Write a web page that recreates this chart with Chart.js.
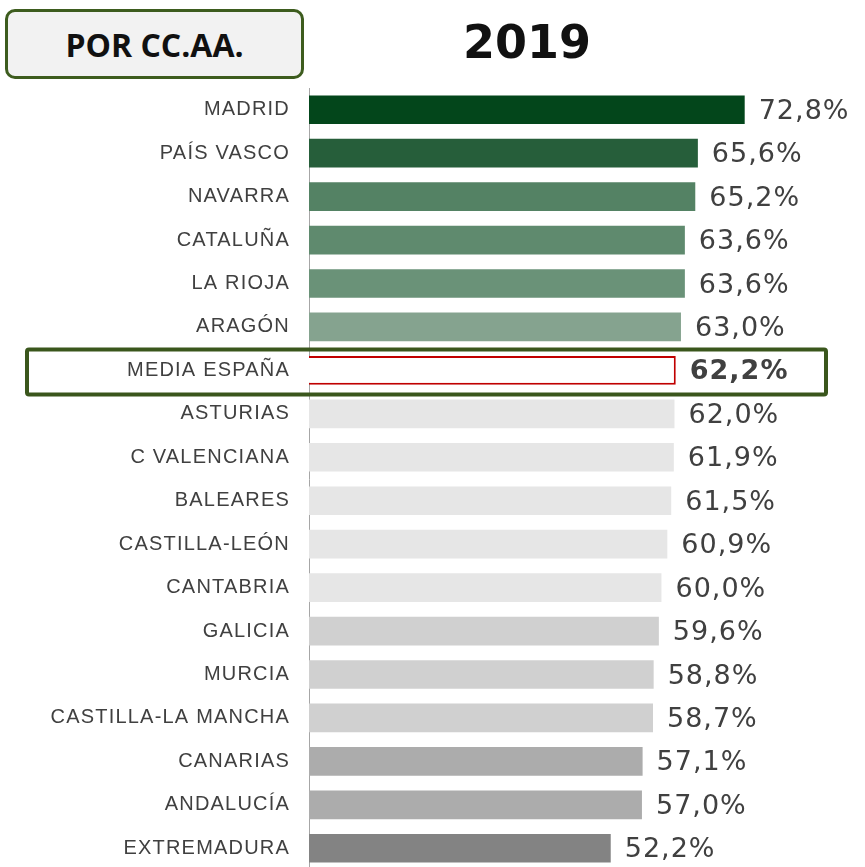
<!DOCTYPE html>
<html>
<head>
<meta charset="utf-8">
<script src="https://cdn.jsdelivr.net/npm/chart.js@4"></script>
<style>
  html, body { margin: 0; padding: 0; background: #fff; overflow: hidden; }
  #wrap { position: relative; width: 865px; height: 867px; overflow: hidden; }
  #badge {
    position: absolute; left: 5px; top: 9px; width: 293px; height: 64px;
    border: 3px solid #3d5c1e; border-radius: 10px; background: #f2f2f2;
    font: bold 32px "Open Sans", sans-serif; color: #111;
    display: flex; align-items: center; justify-content: center;
  }
  #year {
    position: absolute; left: 427px; top: 15px; width: 200px; text-align: center;
    font: bold 46px "DejaVu Sans", sans-serif; color: #111;
  }
</style>
</head>
<body>
<div id="wrap">
  <canvas id="ccaaChart" width="865" height="870"></canvas>
  <div id="badge">POR CC.AA.</div>
  <div id="year">2019</div>
</div>
<script>
// Tasa por comunidad autónoma, 2019
const regiones = ['MADRID', 'PAÍS VASCO', 'NAVARRA', 'CATALUÑA', 'LA RIOJA', 'ARAGÓN', 'MEDIA ESPAÑA',
  'ASTURIAS', 'C VALENCIANA', 'BALEARES', 'CASTILLA-LEÓN', 'CANTABRIA', 'GALICIA', 'MURCIA',
  'CASTILLA-LA MANCHA', 'CANARIAS', 'ANDALUCÍA', 'EXTREMADURA'];
const valores = [72.8, 65.6, 65.2, 63.6, 63.6, 63.0, 62.2, 62.0, 61.9, 61.5, 60.9, 60.0, 59.6, 58.8, 58.7, 57.1, 57.0, 52.2];
const colores = ['#03461b', '#265e3a', '#548264', '#5f8a6e', '#6a9278', '#85a38f', '#ffffff',
  '#e6e6e6', '#e6e6e6', '#e6e6e6', '#e6e6e6', '#e6e6e6', '#d0d0d0', '#d0d0d0', '#d0d0d0',
  '#acacac', '#acacac', '#838383'];
const idxMedia = regiones.indexOf('MEDIA ESPAÑA');

// etiquetas de valor + recuadro de la media
const etiquetas = {
  id: 'etiquetas',
  beforeDraw(chart) {
    chart.ctx.letterSpacing = '1.2px';
  },
  afterDatasetsDraw(chart) {
    const ctx = chart.ctx;
    const meta = chart.getDatasetMeta(0);
    ctx.save();
    ctx.letterSpacing = '1px';
    ctx.fillStyle = '#404040';
    ctx.textAlign = 'left';
    ctx.textBaseline = 'middle';
    meta.data.forEach((bar, i) => {
      ctx.font = (i === idxMedia ? 'bold ' : '') + '27px "DejaVu Sans"';
      ctx.fillText(valores[i].toFixed(1).replace('.', ',') + '%', bar.x + 14, bar.y + 2);
    });
    // recuadro verde alrededor de la fila de la media
    const yc = chart.scales.y.getPixelForValue(idxMedia);
    ctx.strokeStyle = '#3a561c';
    ctx.lineWidth = 4;
    ctx.beginPath();
    ctx.roundRect(27, yc - 21, 799, 45, 2);
    ctx.stroke();
    ctx.restore();
  }
};

const ctx = document.getElementById('ccaaChart').getContext('2d');
new Chart(ctx, {
  type: 'bar',
  data: {
    labels: regiones,
    datasets: [{
      data: valores,
      backgroundColor: colores,
      borderColor: valores.map((v, i) => i === idxMedia ? '#c00000' : 'rgba(0,0,0,0)'),
      borderWidth: valores.map((v, i) => i === idxMedia ? 2 : 0),
      borderSkipped: false,
      barPercentage: 0.66,
      categoryPercentage: 1
    }]
  },
  options: {
    indexAxis: 'y',
    responsive: false,
    animation: false,
    layout: { padding: { top: 88, left: 0, right: 0, bottom: 0 } },
    scales: {
      x: { display: false, min: 5.8, max: 91.3 },
      y: {
        grid: { display: false, drawTicks: false },
        border: { display: true, color: '#a6a6a6', width: 1 },
        ticks: {
          color: '#404040',
          padding: 19,
          font: { family: '"Liberation Sans", Arial, sans-serif', size: 20 }
        },
        afterFit(scale) {
          scale.width = 309;
          scale.paddingTop = 0;
          scale.paddingBottom = 0;
        }
      }
    },
    plugins: {
      legend: { display: false },
      tooltip: { enabled: false }
    }
  },
  plugins: [etiquetas]
});
</script>
</body>
</html>
